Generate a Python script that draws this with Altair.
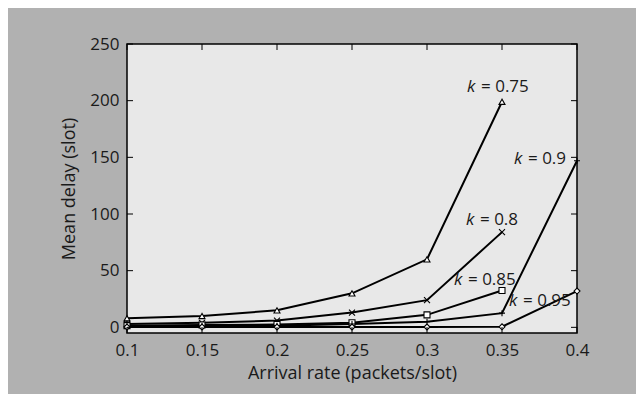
import altair as alt
import pandas as pd

# ---- data ----
arrival = [0.1, 0.15, 0.2, 0.25, 0.3, 0.35, 0.4]
k075 = [8, 10, 15, 30, 60, 199]
k080 = [3, 4, 6, 13, 24, 84]
k085 = [1.5, 2, 2.5, 4, 11, 32.5]
k090 = [1, 1.2, 1.5, 3, 5, 12.5, 147]
k095 = [0.3, 0.3, 0.3, 0.3, 0.3, 0.5, 32]

series_names = ["k = 0.75", "k = 0.8", "k = 0.85", "k = 0.9", "k = 0.95"]
series_values = [k075, k080, k085, k090, k095]

label_text = ["= 0.75", "= 0.8", "= 0.85", "= 0.9", "= 0.95"]
label_x = [0.3267, 0.326, 0.318, 0.358, 0.3547]
label_y = [212.5, 94.5, 41.6, 148.4, 23.3]

y_ticks = [0, 50, 100, 150, 200, 250]
x_ticks = arrival

rows = []
for name, vals in zip(series_names, series_values):
    for xv, yv in zip(arrival, vals):
        rows.append({"rate": xv, "delay": yv, "series": name})
df = pd.DataFrame(rows)

ann = pd.DataFrame({"x": label_x, "y": label_y, "rest": label_text, "k": ["k"] * 5})
yt = pd.DataFrame({"v": y_ticks})
xt = pd.DataFrame({"v": x_ticks})

W, H = 450, 289
FONT = "Open Sans"
TXT = "#1a1a1a"

xscale = alt.Scale(domain=[0.1, 0.4], nice=False, zero=False)
yscale = alt.Scale(domain=[-5, 250], nice=False, zero=False)

x_enc = alt.X("rate:Q", scale=xscale,
              axis=alt.Axis(values=x_ticks, format="~g", ticks=False, grid=False, domain=False,
                            labelFlush=False, labelOverlap=False, labelFontSize=17, labelPadding=9,
                            labelFont=FONT, labelColor=TXT,
                            title="Arrival rate (packets/slot)", titleFontSize=18, titleFont=FONT,
                            titleFontWeight="normal", titleColor=TXT, titlePadding=6))
y_enc = alt.Y("delay:Q", scale=yscale,
              axis=alt.Axis(values=y_ticks, ticks=False, grid=False, domain=False,
                            labelFlush=False, labelOverlap=False, labelFontSize=17, labelPadding=8,
                            labelFont=FONT, labelColor=TXT,
                            title="Mean delay (slot)", titleFontSize=18, titleFont=FONT,
                            titleFontWeight="normal", titleColor=TXT, titlePadding=11))

shape_range = [
    "triangle-up",
    "M-1,-1L1,1M-1,1L1,-1",
    "square",
    "M-1,0L1,0M0,-1L0,1",
    "diamond",
]

lines = alt.Chart(df).mark_line(color="black", strokeWidth=2).encode(
    x=x_enc, y=y_enc, detail="series:N"
)
points = alt.Chart(df).mark_point(filled=True, fill="white", stroke="black", strokeWidth=1.1,
                                  size=36, opacity=1).encode(
    x=alt.X("rate:Q", scale=xscale),
    y=alt.Y("delay:Q", scale=yscale),
    shape=alt.Shape("series:N", scale=alt.Scale(domain=series_names, range=shape_range), legend=None),
)

tick_len = 6
yt_left = alt.Chart(yt).mark_rule(color="black", strokeWidth=1).encode(
    y=alt.Y("v:Q", scale=yscale), x=alt.value(0), x2=alt.value(tick_len))
yt_right = alt.Chart(yt).mark_rule(color="black", strokeWidth=1).encode(
    y=alt.Y("v:Q", scale=yscale), x=alt.value(W - tick_len), x2=alt.value(W))
xt_bottom = alt.Chart(xt).mark_rule(color="black", strokeWidth=1).encode(
    x=alt.X("v:Q", scale=xscale), y=alt.value(H - tick_len), y2=alt.value(H))
xt_top = alt.Chart(xt).mark_rule(color="black", strokeWidth=1).encode(
    x=alt.X("v:Q", scale=xscale), y=alt.value(0), y2=alt.value(tick_len))

k_text = alt.Chart(ann).mark_text(align="left", baseline="middle", fontSize=17, font=FONT,
                                  fontStyle="italic", color=TXT).encode(
    x=alt.X("x:Q", scale=xscale), y=alt.Y("y:Q", scale=yscale), text="k:N")
rest_text = alt.Chart(ann).mark_text(align="left", baseline="middle", fontSize=17, font=FONT,
                                     color=TXT, dx=14).encode(
    x=alt.X("x:Q", scale=xscale), y=alt.Y("y:Q", scale=yscale), text="rest:N")

chart = alt.layer(lines, points, yt_left, yt_right, xt_bottom, xt_top, k_text, rest_text).properties(
    width=W, height=H,
    autosize=alt.AutoSizeParams(type="none"),
    padding={"left": 119, "top": 36, "right": 59, "bottom": 61},
    background="#b1b1b1",
).configure_view(fill="#e8e8e8", stroke="black", strokeWidth=1.5)

chart.save("out.html", embed_options={"renderer": "svg", "actions": False})
